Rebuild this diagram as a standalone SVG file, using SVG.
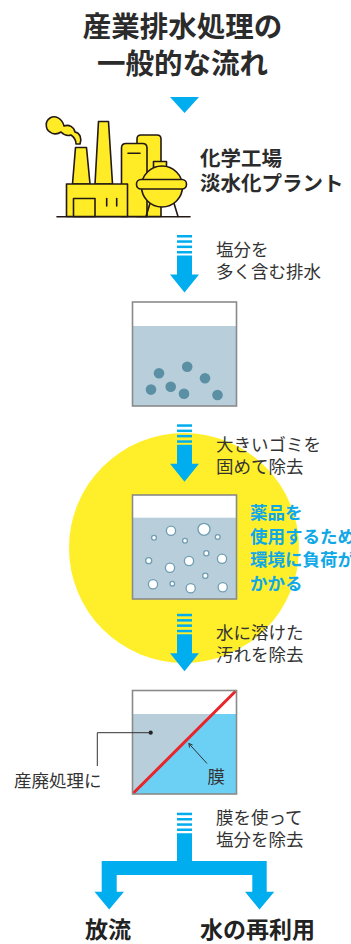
<svg xmlns="http://www.w3.org/2000/svg" width="351" height="944" viewBox="0 0 351 944">
  <style>
    text { font-family: "Noto Sans CJK JP", "Noto Sans", sans-serif; }
    .title { font-size: 28.5px; font-weight: 700; fill: #2b2b2b; text-anchor: middle; }
    .lbl { font-size: 17.5px; font-weight: 400; fill: #333; }
    .blue { font-size: 17.5px; font-weight: 700; fill: #10a8e6; }
    .head { font-size: 20.5px; font-weight: 700; fill: #2b2b2b; }
    .out { font-size: 23px; font-weight: 700; fill: #222; }
    .arrow { fill: #00adee; }
    .tank { fill: none; stroke: #8a8a8a; stroke-width: 1.6; }
    .water { fill: #b8cfdb; }
    .sediment { fill: #5b8fa4; }
    .bubble { fill: #fff; stroke: #6f9db2; stroke-width: 1.3; }
    .fac { fill: #ffec26; stroke: #231815; stroke-width: 1.6; stroke-linejoin: round; }
    .facline { fill: none; stroke: #231815; stroke-width: 1.6; stroke-linecap: round; }
  </style>
  <defs>
    <!-- striped down arrow, origin at the top of the first stripe -->
    <g id="down-arrow" class="arrow">
      <rect x="177" y="0" width="15" height="2.5"/>
      <rect x="177" y="5.3" width="15" height="2.5"/>
      <rect x="177" y="10.6" width="15" height="2.5"/>
      <rect x="177" y="16" width="15" height="2.5"/>
      <path d="M177,20.5 H192 V39.5 H199 L184.5,57.5 L170,39.5 H177 Z"/>
    </g>
  </defs>

  <rect width="351" height="944" fill="#fff"/>

  <!-- highlight disc behind the chemical treatment stage -->
  <circle id="highlight" cx="184" cy="548" r="115" fill="#ffef2a"/>

  <g id="title">
    <text class="title" x="182.5" y="36.5">産業排水処理の</text>
    <text class="title" x="182.5" y="73.5">一般的な流れ</text>
    <polygon class="arrow" points="170,97 199,97 184.5,113"/>
  </g>

  <g id="plant">
    <!-- smoke -->
    <path class="fac" d="M80,144 C82,138 80,133 75,132 C74,127 69,124 64,126 C62,118 55,115 50,118 C45,121 45,129 50,132 C53,135 58,134 61,132 C64,135 68,136 71,135 C74,137 76,140 76,144 Z"/>
    <!-- chimneys -->
    <polygon class="fac" points="75.5,147.5 86.5,147.5 90,184 72.5,184"/>
    <polygon class="fac" points="98.5,121.5 108.5,121.5 112.5,184 95,184"/>
    <!-- tanks -->
    <path class="fac" d="M137,216.5 V139 Q137,135 141,135 H157 Q161,135 161,139 V216.5 Z"/>
    <path class="fac" d="M121.5,216.5 V148 Q121.5,143.5 126,143.5 H142.5 Q147,143.5 147,148 V216.5 Z"/>
    <line class="facline" x1="128" y1="153.3" x2="140" y2="153.3"/>
    <!-- main building -->
    <rect class="fac" x="66.5" y="184" width="61" height="32.5"/>
    <rect class="fac" x="73.5" y="198.5" width="21.5" height="18"/>
    <line class="facline" x1="106.7" y1="198.5" x2="106.7" y2="206"/>
    <line class="facline" x1="116.7" y1="198.5" x2="116.7" y2="206"/>
    <!-- spherical vessel -->
    <line class="facline" x1="151" y1="200" x2="146" y2="216.5"/>
    <line class="facline" x1="173" y1="200" x2="178" y2="216.5"/>
    <rect class="fac" x="153.5" y="161.5" width="13" height="6"/>
    <circle class="fac" cx="162" cy="186.5" r="20.5"/>
    <rect class="fac" x="136.5" y="179.5" width="50" height="9.5" rx="4.5"/>
    <!-- ground -->
    <line class="facline" x1="57" y1="216.7" x2="190" y2="216.7"/>
    <text class="head" x="200" y="166">化学工場</text>
    <text class="head" x="200" y="191">淡水化プラント</text>
  </g>

  <g id="connectors">
    <use href="#down-arrow" y="235"/>
    <use href="#down-arrow" y="424.3"/>
    <use href="#down-arrow" y="613.8"/>
    <g class="arrow">
      <rect x="177" y="812.7" width="15" height="2.5"/>
      <rect x="177" y="818" width="15" height="2.5"/>
      <rect x="177" y="823.3" width="15" height="2.5"/>
      <rect x="177" y="828.5" width="15" height="2.5"/>
      <path d="M177,833.3 H192 V861 H266.7 V891.7 H274.3 L259.5,909.5 L245,891.7 H252.3 V875 H116.7 V891.7 H124 L109.2,909.5 L94.5,891.7 H101.7 V861 H177 Z"/>
    </g>
  </g>

  <g id="step-labels">
    <text class="lbl" x="216" y="255.5">塩分を</text>
    <text class="lbl" x="216" y="277.5">多く含む排水</text>
    <text class="lbl" x="216" y="450.5">大きいゴミを</text>
    <text class="lbl" x="216" y="472.5">固めて除去</text>
    <text class="lbl" x="216" y="639">水に溶けた</text>
    <text class="lbl" x="216" y="661">汚れを除去</text>
    <text class="lbl" x="216" y="824">膜を使って</text>
    <text class="lbl" x="216" y="846">塩分を除去</text>
  </g>

  <g id="tank-raw">
    <rect class="water" x="132.5" y="326" width="104" height="80"/>
    <g class="sediment">
      <circle cx="159" cy="373.3" r="5.3"/>
      <circle cx="187.2" cy="366.7" r="5.3"/>
      <circle cx="205" cy="378.3" r="5.3"/>
      <circle cx="151" cy="389.6" r="5.3"/>
      <circle cx="170.7" cy="386.7" r="5.3"/>
      <circle cx="184" cy="393.7" r="5.3"/>
      <circle cx="217.5" cy="395" r="5.3"/>
    </g>
    <rect class="tank" x="132.5" y="302" width="104" height="104"/>
  </g>

  <g id="tank-chemical">
    <rect x="132.5" y="495" width="104" height="104" fill="#fff"/>
    <rect class="water" x="132.5" y="517.7" width="104" height="81.3"/>
    <g class="bubble">
      <circle cx="154" cy="537.7" r="2.4"/>
      <circle cx="171" cy="530.7" r="4.6"/>
      <circle cx="185" cy="540.7" r="2.4"/>
      <circle cx="204" cy="529.3" r="6"/>
      <circle cx="217.7" cy="537" r="2.4"/>
      <circle cx="148.7" cy="560.7" r="3"/>
      <circle cx="170" cy="567.7" r="4.6"/>
      <circle cx="189" cy="561" r="4.6"/>
      <circle cx="206.3" cy="553.3" r="2.6"/>
      <circle cx="222" cy="558.7" r="4.6"/>
      <circle cx="205.3" cy="575.7" r="2.6"/>
      <circle cx="153" cy="584.3" r="4.6"/>
      <circle cx="172.3" cy="583.7" r="2.3"/>
      <circle cx="190.7" cy="588.3" r="4.6"/>
      <circle cx="222.7" cy="587.3" r="4.6"/>
    </g>
    <rect class="tank" x="132.5" y="495" width="104" height="104"/>
    <text class="blue" x="250" y="519">薬品を</text>
    <text class="blue" x="250" y="542.5">使用するため</text>
    <text class="blue" x="250" y="566">環境に負荷が</text>
    <text class="blue" x="250" y="589.5">かかる</text>
  </g>

  <g id="tank-membrane">
    <polygon class="water" points="132.5,714 212.8,714 132.5,794"/>
    <polygon points="212.8,714 236.5,714 236.5,794 132.5,794" fill="#6ccff4"/>
    <line x1="133" y1="793.5" x2="236" y2="690.8" stroke="#e8252b" stroke-width="3"/>
    <rect class="tank" x="132.5" y="690.5" width="104" height="103.5"/>
    <!-- leader to concentrate side -->
    <circle cx="150.7" cy="732.7" r="2.1" fill="#222"/>
    <path d="M150.7,732.7 H97.3 V766" fill="none" stroke="#333" stroke-width="1"/>
    <text class="lbl" x="14" y="786.5">産廃処理に</text>
    <!-- pointer to membrane -->
    <path d="M207,763.5 L188.8,743.5 M188.8,743.5 L189.6,747.6 M188.8,743.5 L192.6,745" fill="none" stroke="#333" stroke-width="1"/>
    <text class="lbl" x="207.5" y="782.5">膜</text>
  </g>

  <g id="outputs">
    <text class="out" x="85" y="938">放流</text>
    <text class="out" x="200" y="938">水の再利用</text>
  </g>
</svg>
